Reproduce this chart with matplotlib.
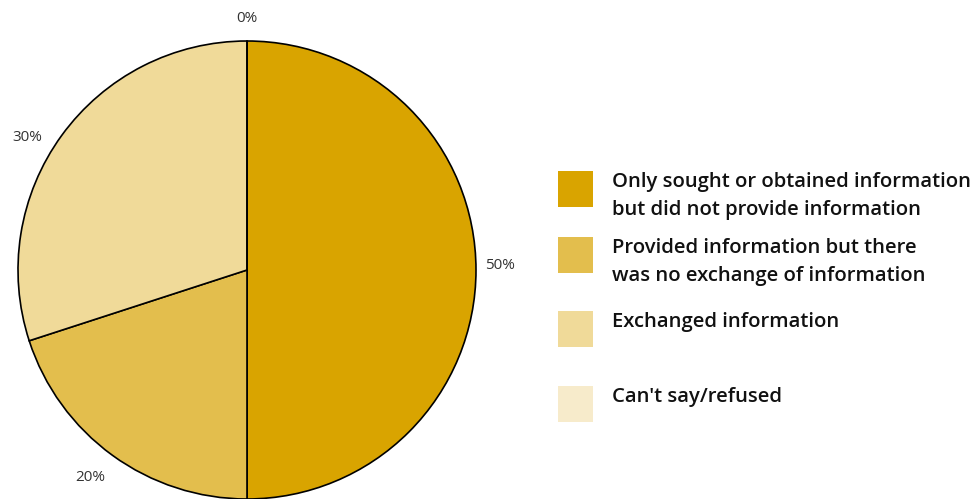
import matplotlib.pyplot as plt
from matplotlib.patches import Rectangle

# Share of respondents by type of information exchange
categories = [
    "Only sought or obtained information\nbut did not provide information",
    "Provided information but there\nwas no exchange of information",
    "Exchanged information",
    "Can't say/refused",
]
shares = [50, 20, 30, 0]
colors = ["#D9A400", "#E3BE4D", "#F0DA99", "#F7EBCB"]

# where each percentage label sits (pie data units) and its alignment
label_xy = [(1.04, 0.02), (-0.62, -0.905), (-0.893, 0.58), (0.0, 1.097)]
label_ha = ["left", "right", "right", "center"]

W, H = 978, 499
fig = plt.figure(figsize=(W / 100, H / 100), dpi=100)

# pie axes: centre (247, 270) px, radius 229 px
cx, cy, r = 247, 270, 229
ax = fig.add_axes([(cx - r) / W, (H - cy - r) / H, 2 * r / W, 2 * r / H])
wedges, texts = ax.pie(
    shares,
    colors=colors,
    startangle=90,
    counterclock=False,
    labels=[f"{v}%" for v in shares],
    wedgeprops=dict(edgecolor="black", linewidth=1.2),
    textprops=dict(fontsize=11, color="#333333", family="Open Sans"),
)
ax.set_xlim(-1, 1)
ax.set_ylim(-1, 1)
ax.set_aspect("equal")
ax.axis("off")
for t, xy, ha in zip(texts, label_xy, label_ha):
    t.set_position(xy)
    t.set_ha(ha)
    t.set_va("center")
    t.set_clip_on(False)

# legend drawn by hand on the right
box_tops = [171, 237, 311, 386]
for top, col, lab in zip(box_tops, colors, categories):
    fig.patches.append(
        Rectangle((558 / W, 1 - (top + 36) / H), 35 / W, 36 / H,
                  transform=fig.transFigure, facecolor=col, edgecolor="none")
    )
    fig.text(612 / W, 1 - (top + 1) / H, lab, ha="left", va="top",
             fontsize=14.6, fontweight="semibold", family="Open Sans",
             color="#111111", linespacing=1.5)

fig.savefig("out.png", dpi=100, facecolor="white")
